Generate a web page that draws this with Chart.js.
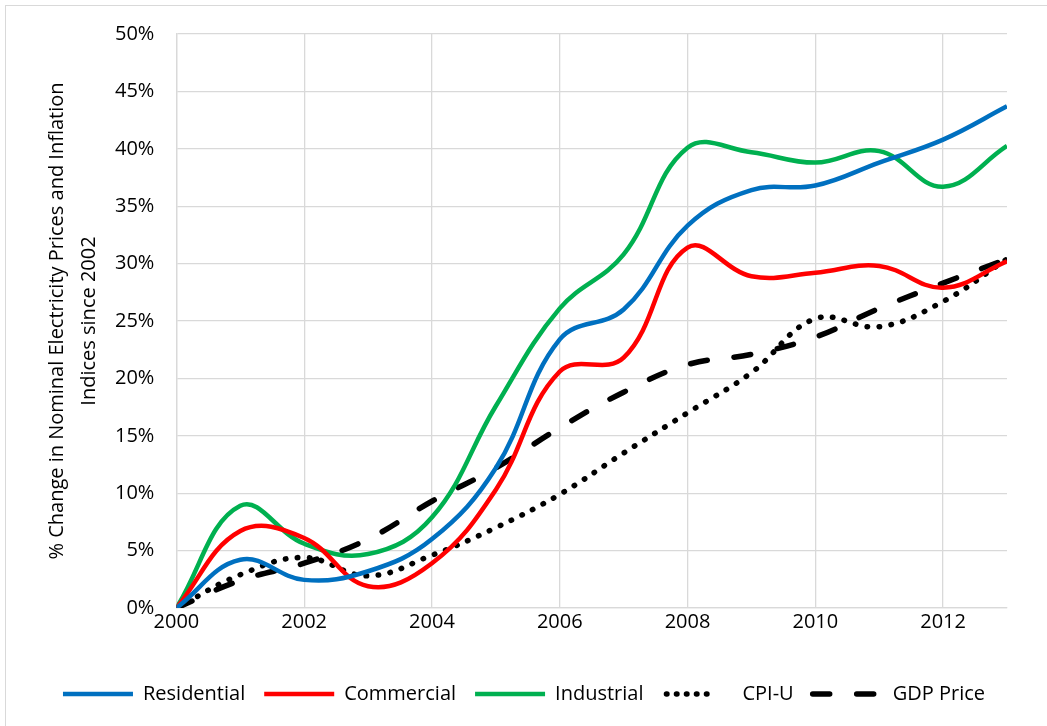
<!DOCTYPE html>
<html>
<head>
<meta charset="utf-8">
<script src="https://cdn.jsdelivr.net/npm/chart.js@4/dist/chart.umd.min.js"></script>
<style>
  body { margin: 0; background: #fff; }
  #wrap { position: relative; width: 1047px; height: 726px; overflow: hidden; }
  #frame { position: absolute; left: 5px; top: 5px; width: 1100px; height: 800px; border: 1px solid #d9d9d9; box-sizing: border-box; }
  canvas { position: absolute; left: 0; top: 0; }
</style>
</head>
<body>
<div id="wrap">
  <div id="frame"></div>
  <canvas id="priceChart" width="1047" height="726"></canvas>
</div>
<script>
// years on the x axis
const years = [2000, 2001, 2002, 2003, 2004, 2005, 2006, 2007, 2008, 2009, 2010, 2011, 2012, 2013];

// % change values
const residential = [0, 4.2, 2.45, 3.2, 6.0, 12.2, 23.4, 26.0, 33.3, 36.4, 36.8, 38.8, 40.8, 43.7];
const commercial  = [0, 6.7, 6.1, 1.9, 3.9, 10.3, 20.6, 21.8, 31.4, 28.9, 29.2, 29.8, 27.9, 30.2];
const industrial  = [0, 8.9, 5.6, 4.7, 7.9, 17.6, 26.1, 30.8, 40.1, 39.7, 38.8, 39.8, 36.7, 40.25];
const cpiU        = [0, 2.9, 4.4, 2.8, 4.6, 7.0, 9.9, 13.5, 17.0, 20.5, 25.2, 24.5, 26.7, 30.4];
const gdpPrice    = [0, 2.4, 3.9, 6.0, 9.3, 12.2, 15.7, 18.8, 21.2, 22.1, 23.6, 26.1, 28.3, 30.4];

const seriesNames = ['Residential', 'Commercial', 'Industrial', 'CPI-U', 'GDP Price'];
const seriesColors = ['#0070c0', '#ff0000', '#00b050', '#000000', '#000000'];

function points(values) {
  let pts = [];
  for (var i = 0; i < years.length; i++) {
    pts.push({ x: years[i], y: values[i] });
  }
  return pts;
}

const allSeries = [residential, commercial, industrial, cpiU, gdpPrice];
const dashes = [[], [], [], [0.5, 11.5], [17, 27]];
const widths = [4.5, 4.5, 4.5, 5.5, 5.5];
const sampleWidth = 70;

let datasets = [];
for (var i = 0; i < allSeries.length; i++) {
  datasets.push({
    label: seriesNames[i],
    data: points(allSeries[i]),
    borderColor: seriesColors[i],
    backgroundColor: seriesColors[i],
    borderWidth: widths[i],
    borderDash: dashes[i],
    borderCapStyle: i >= 3 ? 'round' : 'butt',
    pointRadius: 0,
    tension: 0.4,
    fill: false
  });
}

// the built-in point-style legend ignores dashes, so draw the samples here
const legendLines = {
  id: 'legendLines',
  afterDraw(chart) {
    const legend = chart.legend;
    const ctx = chart.ctx;
    legend.legendHitBoxes.forEach((box, i) => {
      const ds = chart.data.datasets[i];
      const y = box.top + box.height / 2;
      ctx.save();
      ctx.strokeStyle = ds.borderColor;
      ctx.lineWidth = ds.borderWidth;
      ctx.lineCap = ds.borderCapStyle;
      ctx.setLineDash(i === 3 ? [0.5, 9.5] : ds.borderDash);
      ctx.beginPath();
      ctx.moveTo(box.left + (i === 3 ? 4 : 0), y);
      ctx.lineTo(box.left + sampleWidth - (i === 3 ? 20 : 0), y);
      ctx.stroke();
      ctx.restore();
    });
  }
};

const tickFont = { family: 'Open Sans', size: 20 };

new Chart(document.getElementById('priceChart'), {
  type: 'line',
  data: { datasets: datasets },
  plugins: [legendLines],
  options: {
    responsive: false,
    animation: false,
    layout: { padding: { top: 28, right: 40, left: 41, bottom: 12 } },
    scales: {
      x: {
        type: 'linear',
        min: 2000,
        max: 2013,
        grid: { color: '#d9d9d9', lineWidth: 1.3, drawTicks: false },
        border: { color: '#d9d9d9', width: 1.3 },
        afterFit: (scale) => { scale.height += 29; },
        ticks: {
          stepSize: 2,
          includeBounds: false,
          color: '#000',
          font: tickFont,
          padding: 2,
          maxRotation: 0,
          callback: (v) => String(v)
        }
      },
      y: {
        min: 0,
        max: 50,
        grid: { color: '#d9d9d9', lineWidth: 1.3, drawTicks: false },
        border: { color: '#d9d9d9', width: 1.3 },
        afterFit: (scale) => { scale.width -= 12; },
        ticks: {
          stepSize: 5,
          color: '#000',
          font: tickFont,
          padding: 22,
          callback: (v) => v + '%'
        },
        title: {
          display: true,
          text: ['% Change in Nominal Electricity Prices and Inflation', 'Indices since 2002'],
          color: '#000',
          font: { family: 'Open Sans', size: 20, lineHeight: 1.6 },
          padding: 0
        }
      }
    },
    plugins: {
      legend: {
        position: 'bottom',
        labels: {
          usePointStyle: true,
          pointStyle: 'line',
          pointStyleWidth: sampleWidth,
          boxHeight: 20,
          color: '#000',
          font: tickFont,
          padding: 19,
          generateLabels(chart) {
            const items = Chart.defaults.plugins.legend.labels.generateLabels(chart);
            items.forEach((item) => { item.strokeStyle = 'rgba(0,0,0,0)'; item.fillStyle = 'rgba(0,0,0,0)'; });
            return items;
          }
        }
      },
      tooltip: { enabled: false }
    }
  }
});
</script>
</body>
</html>
